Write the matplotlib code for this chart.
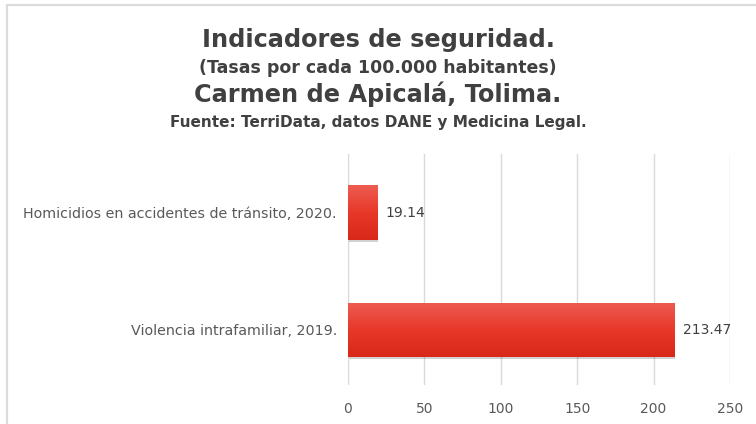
import numpy as np
import matplotlib
matplotlib.use('Agg')
import matplotlib.pyplot as plt
from matplotlib.patches import Rectangle
from matplotlib.colors import LinearSegmentedColormap

# Data
categories = ['Violencia intrafamiliar, 2019.', 'Homicidios en accidentes de tránsito, 2020.']
values = [213.47, 19.14]
value_labels = ['213.47', '19.14']
xticks = [0, 50, 100, 150, 200, 250]

plt.rcParams['font.family'] = ['DejaVu Sans']

fig = plt.figure(figsize=(7.56, 4.24), dpi=100)
fig.patch.set_facecolor('white')

# Outer light frame
fig.patches.append(Rectangle((6.5 / 756, -0.1), 1.2, 1 - 5 / 424 + 0.1, transform=fig.transFigure,
                             fill=False, edgecolor='#dcdcdc', linewidth=1.6))

# Titles (baseline positions in pixels from the top)
title_color = '#404040'
fig.text(0.5, 1 - 47 / 424, 'Indicadores de seguridad.', ha='center', va='baseline',
         fontsize=17.3, fontweight='bold', color=title_color)
fig.text(0.5, 1 - 73 / 424, '(Tasas por cada 100.000 habitantes)', ha='center', va='baseline',
         fontsize=12.5, fontweight='bold', color=title_color)
fig.text(0.5, 1 - 102 / 424, 'Carmen de Apicalá, Tolima.', ha='center', va='baseline',
         fontsize=17.3, fontweight='bold', color=title_color)
fig.text(0.5, 1 - 127 / 424, 'Fuente: TerriData, datos DANE y Medicina Legal.', ha='center', va='baseline',
         fontsize=11, fontweight='bold', color=title_color)

ax = fig.add_axes([348 / 756, 1 - 385 / 424, 382 / 756, 231 / 424])
ypos = np.arange(len(categories))
bar_h = 0.465

bars = ax.barh(ypos, values, height=bar_h, color='#e63328', zorder=3)

# gradient + shadow on each bar
cmap = LinearSegmentedColormap.from_list('redgrad', ['#d8281a', '#e8382a', '#ed5c51'])
grad = np.linspace(0, 1, 100).reshape(-1, 1)
for b in bars:
    x0, y0 = b.get_x(), b.get_y()
    w, h = b.get_width(), b.get_height()
    shadow = Rectangle((x0 + 0.8, y0 - 0.02), w, h, facecolor='#000000', alpha=0.18,
                       edgecolor='none', zorder=2)
    ax.add_patch(shadow)
    img = ax.imshow(grad, extent=[x0, x0 + w, y0, y0 + h], origin='lower', cmap=cmap,
                    aspect='auto', zorder=4)
    img.set_clip_path(b)

for yv, v, lab in zip(ypos, values, value_labels):
    ax.text(v + 5.5, yv, lab, va='center', ha='left', fontsize=10, color='#404040', zorder=5)

ax.set_xlim(0, 250)
ax.set_ylim(-0.47, 1.5)
ax.set_xticks(xticks)
ax.set_yticks(ypos)
ax.set_yticklabels(categories)
ax.tick_params(axis='x', length=0, pad=12, labelsize=10, labelcolor='#595959')
ax.tick_params(axis='y', length=0, pad=8, labelsize=10.3, labelcolor='#595959')
ax.grid(axis='x', color='#d9d9d9', linewidth=1, zorder=0)
ax.set_axisbelow(True)
for s in ax.spines.values():
    s.set_visible(False)
ax.set_facecolor('white')

fig.savefig('out.png', dpi=100)
